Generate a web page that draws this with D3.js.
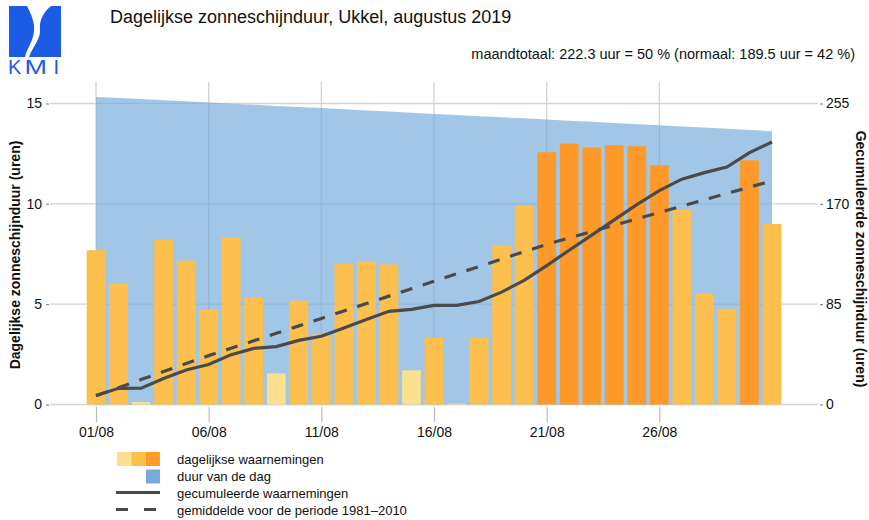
<!DOCTYPE html>
<html><head><meta charset="utf-8">
<script src="https://cdn.jsdelivr.net/npm/d3@7"></script>
<style>
body{margin:0;background:#fff;}
svg{display:block;font-family:"Liberation Sans",Arial,Helvetica,sans-serif;}
</style></head>
<body>
<svg id="chart" width="869" height="520"></svg>
<script>
// ---- data ----
const days = d3.range(1, 32);
const sunshine = [7.69,6.01,0.12,8.20,7.17,4.72,8.32,5.32,1.55,5.18,3.49,7.01,7.14,6.98,1.70,3.32,0.05,3.31,7.92,9.90,12.57,13.00,12.80,12.92,12.87,11.92,9.72,5.52,4.77,12.17,9.00];
const dayLength = [15.33,15.27,15.22,15.16,15.11,15.05,14.99,14.94,14.88,14.82,14.77,14.71,14.65,14.60,14.54,14.48,14.43,14.37,14.31,14.26,14.20,14.14,14.09,14.03,13.97,13.91,13.86,13.80,13.74,13.68,13.62];
const normalDaily = [7.4,6.8,6.9,6.8,6.8,6.7,6.3,6.3,6.3,6.3,6.3,6.3,6.3,6.3,6.3,6.3,6.3,6.2,6.3,6.2,6.3,5.4,5.4,5.4,5.4,5.4,5.3,5.4,5.4,5.3,5.4];
const xTickDays = [1,6,11,16,21,26];
const yLeftTicks = [0,5,10,15];
const yRightTicks = [0,85,170,255];
const title = "Dagelijkse zonneschijnduur, Ukkel, augustus 2019";
const subtitle = "maandtotaal: 222.3 uur = 50 % (normaal: 189.5 uur = 42 %)";
const legendLabels = ["dagelijkse waarnemingen","duur van de dag","gecumuleerde waarnemingen","gemiddelde voor de periode 1981\u20132010"];

const cumObs = Array.from(d3.cumsum(sunshine));
const cumNorm = Array.from(d3.cumsum(normalDaily));

// ---- styles ----
const colLight = "#fde08d", colMid = "#fdc04f", colDark = "#fd9a2a";
const colBlue = "#76abd9";
const lineCol = "#4a4a4a";

const svg = d3.select("#chart");
const x = d3.scaleLinear().domain([1,31]).range([96,772]);
const y = d3.scaleLinear().domain([0,15]).range([404.5,103.5]);
const y2 = d3.scaleLinear().domain([0,255]).range([404.5,103.5]);
const step = x(2)-x(1);
const barW = step*0.83;

// gridlines
const grid = svg.append("g");
grid.selectAll("line.h").data(yLeftTicks).join("line")
  .attr("x1",50).attr("x2",818).attr("y1",d=>y(d)).attr("y2",d=>y(d))
  .attr("stroke","#d3d3d3").attr("stroke-width",1.3);
grid.selectAll("line.v").data(xTickDays).join("line")
  .attr("x1",d=>x(d)).attr("x2",d=>x(d)).attr("y1",82).attr("y2",406)
  .attr("stroke","#d3d3d3").attr("stroke-width",1.3);

// day length area
svg.append("path")
  .datum(days)
  .attr("d", d3.area().x(d=>x(d)).y0(y(0)).y1((d,i)=>y(dayLength[i])))
  .attr("fill",colBlue).attr("fill-opacity",0.68);

// bars
function barColor(v,L){ const r=v/L; return r<0.2?colLight:(r>=0.8?colDark:colMid); }
svg.append("g").selectAll("rect").data(days).join("rect")
  .attr("x",d=>x(d)-barW/2).attr("width",barW)
  .attr("y",(d,i)=>y(sunshine[i])).attr("height",(d,i)=>y(0)-y(sunshine[i]))
  .attr("fill",(d,i)=>barColor(sunshine[i],dayLength[i]));

// lines
svg.append("path").datum(days)
  .attr("d", d3.line().x(d=>x(d)).y((d,i)=>y2(cumNorm[i])))
  .attr("fill","none").attr("stroke",lineCol).attr("stroke-width",3.2)
  .attr("stroke-dasharray","12,11");
svg.append("path").datum(days)
  .attr("d", d3.line().x(d=>x(d)).y((d,i)=>y2(cumObs[i])))
  .attr("fill","none").attr("stroke",lineCol).attr("stroke-width",3.2);

// axes
const axL = svg.append("g").attr("transform","translate(49,0)")
  .call(d3.axisLeft(y).tickValues(yLeftTicks).tickSize(3).tickPadding(4));
const axR = svg.append("g").attr("transform","translate(820,0)")
  .call(d3.axisRight(y2).tickValues(yRightTicks).tickSize(3).tickPadding(3));
const axB = svg.append("g").attr("transform","translate(0,407)")
  .call(d3.axisBottom(x).tickValues(xTickDays).tickSize(15).tickPadding(5)
    .tickFormat(d=>String(d).padStart(2,"0")+"/08"));
[axL,axR,axB].forEach(a=>{
  a.select(".domain").remove();
  a.selectAll(".tick line").attr("stroke","#8a8a8a").attr("stroke-width",1.2);
  a.selectAll("text").attr("fill","#111").style("font-size","14px")
    .style("font-family","'Liberation Sans',Arial,sans-serif");
});
axB.selectAll(".tick line").attr("stroke","#bbbbbb");

// axis titles
svg.append("text").attr("transform","translate(20,255) rotate(-90)")
  .attr("text-anchor","middle").attr("font-weight","bold").attr("font-size","14px")
  .attr("fill","#111").text("Dagelijkse zonneschijnduur (uren)");
svg.append("text").attr("transform","translate(856,259) rotate(90)")
  .attr("text-anchor","middle").attr("font-weight","bold").attr("font-size","14px")
  .attr("fill","#111").text("Gecumuleerde zonneschijnduur (uren)");

// title / subtitle
svg.append("text").attr("x",110).attr("y",23).attr("font-size","18px").attr("fill","#111").text(title);
svg.append("text").attr("x",855).attr("y",58.5).attr("text-anchor","end").attr("font-size","14.5px").attr("fill","#111").text(subtitle);

// logo
const logo = svg.append("g");
const logoBlue = "#1c5be3";
logo.append("path").attr("fill",logoBlue)
  .attr("d","M9,6 L27,6 C31,14 35,22 34,31 C33,42 27,48 25,57 L9,57 Z");
logo.append("path").attr("fill",logoBlue)
  .attr("d","M61,6 L51,6 C44,12 39,20 40,29 C41,39 33,46 29,57 L61,57 Z");
logo.append("text").attr("x",8).attr("y",74).attr("font-size","20px").attr("fill",logoBlue).text("K");
logo.append("text").attr("transform","translate(24.5,74) scale(1.35,1)").attr("font-size","20px").attr("fill",logoBlue).text("M");
logo.append("text").attr("x",53.5).attr("y",74).attr("font-size","20px").attr("fill",logoBlue).text("I");

// legend
const lg = svg.append("g").style("font-size","13px").attr("fill","#111");
[colLight,colMid,colDark].forEach((c,i)=>{
  lg.append("rect").attr("x",117+i*14.3).attr("y",452).attr("width",14.3).attr("height",14).attr("fill",c);
});
lg.append("rect").attr("x",146).attr("y",469.5).attr("width",14).attr("height",14).attr("fill",colBlue);
lg.append("line").attr("x1",116).attr("x2",160).attr("y1",492.5).attr("y2",492.5)
  .attr("stroke",lineCol).attr("stroke-width",3.2);
lg.append("line").attr("x1",116).attr("x2",160).attr("y1",509.5).attr("y2",509.5)
  .attr("stroke",lineCol).attr("stroke-width",3.2).attr("stroke-dasharray","12,16");
legendLabels.forEach((t,i)=>{
  lg.append("text").attr("x",177).attr("y",464+i*17).text(t);
});
</script>
</body></html>
